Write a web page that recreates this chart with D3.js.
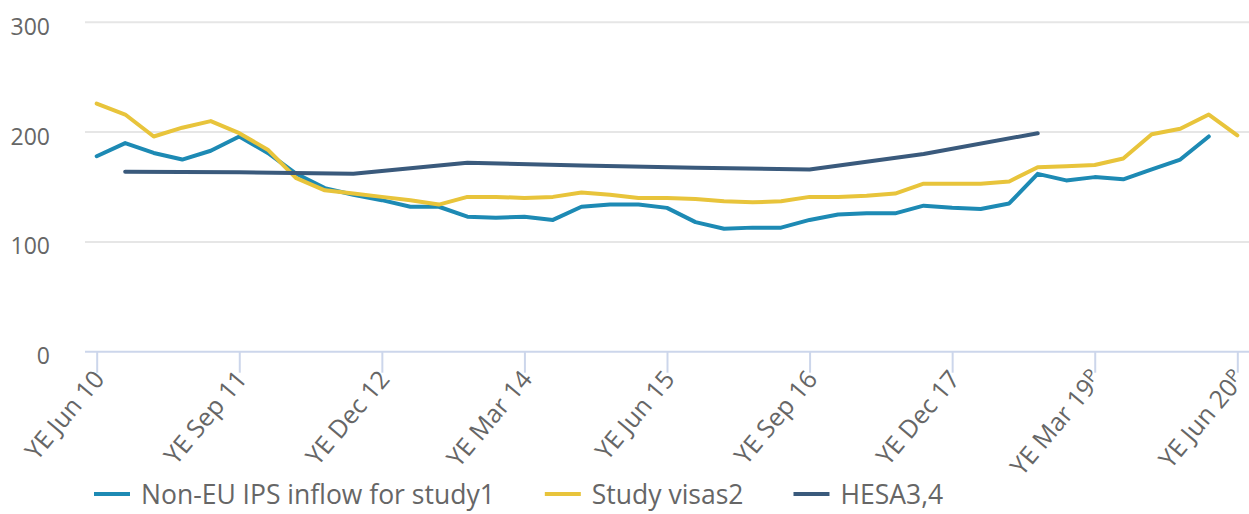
<!DOCTYPE html>
<html>
<head>
<meta charset="utf-8">
<script src="https://cdn.jsdelivr.net/npm/d3@7"></script>
<style>
  html, body { margin: 0; padding: 0; background: #fff; }
  svg { display: block; font-family: "Open Sans", sans-serif; }
</style>
</head>
<body>
<svg id="chart" width="1249" height="514"></svg>
<script>
const categories = [
  "YE Jun 10","YE Sep 10","YE Dec 10","YE Mar 11","YE Jun 11","YE Sep 11","YE Dec 11","YE Mar 12",
  "YE Jun 12","YE Sep 12","YE Dec 12","YE Mar 13","YE Jun 13","YE Sep 13","YE Dec 13","YE Mar 14",
  "YE Jun 14","YE Sep 14","YE Dec 14","YE Mar 15","YE Jun 15","YE Sep 15","YE Dec 15","YE Mar 16",
  "YE Jun 16","YE Sep 16","YE Dec 16","YE Mar 17","YE Jun 17","YE Sep 17","YE Dec 17","YE Mar 18",
  "YE Jun 18","YE Sep 18","YE Dec 18","YE Mar 19P","YE Jun 19P","YE Sep 19P","YE Dec 19P","YE Mar 20P",
  "YE Jun 20P"
];
const tickLabels = ["YE Jun 10","YE Sep 11","YE Dec 12","YE Mar 14","YE Jun 15","YE Sep 16","YE Dec 17","YE Mar 19P","YE Jun 20P"];
const yTicks = [0, 100, 200, 300];

const ipsInflow = [178, 190, 181, 175, 183, 196, 181, 162, 149, 143, 138, 132, 132, 123, 122, 123, 120, 132, 134, 134,
  131, 118, 112, 113, 113, 120, 125, 126, 126, 133, 131, 130, 135, 162, 156, 159, 157, 166, 175, 196, null];
const studyVisas = [226, 216, 196, 204, 210, 199, 184, 158, 147, 144, 141, 138, 134, 141, 141, 140, 141, 145, 143, 140,
  140, 139, 137, 136, 137, 141, 141, 142, 144, 153, 153, 153, 155, 168, 169, 170, 176, 198, 203, 216, 197];
const hesa = [null, 164, null, null, null, 163.5, null, null, null, 162, null, null, null, 172, null, null, null, 169.5, null, null,
  null, 167.5, null, null, null, 166, null, null, null, 180, null, null, null, 199, null, null, null, null, null, null, null];

const seriesNames = ["Non-EU IPS inflow for study1", "Study visas2", "HESA3,4"];
const seriesColors = ["#1d8ab4", "#e8c43b", "#3a5a7c"];
const seriesData = [ipsInflow, studyVisas, hesa];

const svg = d3.select("#chart");
const plotLeft = 85, plotRight = 1249, plotTop = 22.3, plotBottom = 351.7;

const x = d3.scalePoint().domain(categories).range([plotLeft, plotRight]).padding(0.41);
const y = d3.scaleLinear().domain([0, 300]).range([plotBottom, plotTop]);

// gridlines
svg.append("g").selectAll("line").data(yTicks.filter(d => d > 0)).join("line")
  .attr("x1", plotLeft).attr("x2", plotRight)
  .attr("y1", d => y(d)).attr("y2", d => y(d))
  .attr("stroke", "#e6e6e6").attr("stroke-width", 2);

// y labels
svg.append("g").selectAll("text").data(yTicks).join("text")
  .attr("x", 50).attr("y", d => y(d) + 12.5)
  .attr("text-anchor", "end")
  .attr("font-size", 23).attr("fill", "#666")
  .text(d => d);

// x axis
const xAxis = d3.axisBottom(x).tickValues(tickLabels).tickSize(21).tickFormat("");
const gx = svg.append("g").attr("transform", `translate(0,${plotBottom})`).call(xAxis);
gx.select(".domain").attr("d", `M${plotLeft},0H${plotRight}`).attr("stroke", "#ccd6eb").attr("stroke-width", 2);
gx.selectAll(".tick line").attr("stroke", "#ccd6eb").attr("stroke-width", 2);

// x labels rotated
const xl = svg.append("g").selectAll("text").data(tickLabels).join("text")
  .attr("text-anchor", "end")
  .attr("font-size", 25).attr("fill", "#666")
  .attr("transform", d => `translate(${x(d) + 9},${plotBottom + 28}) rotate(-50)`);
xl.each(function(d) {
  const t = d3.select(this);
  if (d.endsWith("P")) {
    t.append("tspan").text(d.slice(0, -1));
    t.append("tspan").attr("font-size", 18).attr("dy", -7).text("P");
  } else {
    t.text(d);
  }
});

// lines
const line = d3.line()
  .x(d => x(d.cat))
  .y(d => y(d.v));
seriesData.forEach((arr, si) => {
  const pts = arr.map((v, i) => ({cat: categories[i], v})).filter(d => d.v != null);
  svg.append("path").datum(pts)
    .attr("d", line)
    .attr("fill", "none")
    .attr("stroke", seriesColors[si])
    .attr("stroke-width", 4)
    .attr("stroke-linejoin", "round")
    .attr("stroke-linecap", "round");
});

// legend
const legend = svg.append("g");
let lx = 94;
const ly = 494;
seriesNames.forEach((name, i) => {
  legend.append("line").attr("x1", lx).attr("x2", lx + 36).attr("y1", ly).attr("y2", ly)
    .attr("stroke", seriesColors[i]).attr("stroke-width", 4);
  const t = legend.append("text").attr("x", lx + 47).attr("y", ly + 9.5)
    .attr("font-size", 26.5).attr("fill", "#666").text(name);
  const w = t.node().getComputedTextLength();
  lx = lx + 47 + w + 50;
});
</script>
</body>
</html>
